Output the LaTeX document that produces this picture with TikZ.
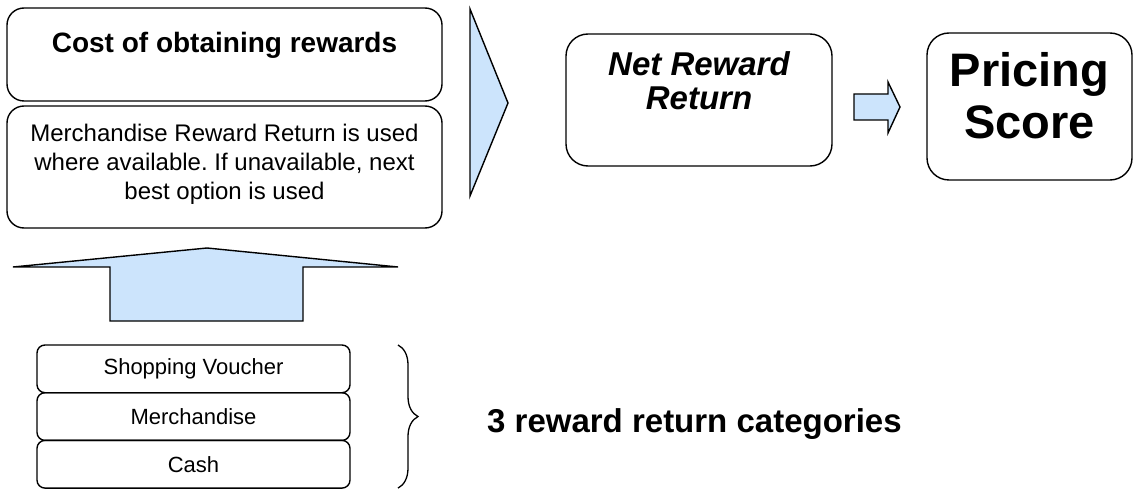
\documentclass[tikz,border=0pt]{standalone}
\usepackage{fontspec}
\setmainfont{Liberation Sans}
\usetikzlibrary{positioning,decorations.pathreplacing}
\definecolor{arrowblue}{RGB}{204,228,252}
\frenchspacing

\begin{document}
\begin{tikzpicture}[x=1pt,y=-1pt,
		box/.style={draw,line width=1.4pt,rounded corners=17pt,inner sep=0pt,outer sep=0pt},
		catbox/.style={box,rounded corners=8pt,minimum width=313pt,minimum height=47.7pt,font=\fontsize{22}{26}\selectfont},
		blockarrow/.style={draw,line width=1.4pt,fill=arrowblue,line join=miter}]
		\useasboundingbox (0,0) rectangle (1133,489);
		% left column
		\node[box,minimum width=435pt,minimum height=93pt] (cost) at (224.5,54.5) {};
		\node[font=\fontsize{28}{32}\selectfont\bfseries,inner sep=0pt,below=24pt of cost.north] (costtitle) {Cost of obtaining rewards};
		\node[box,minimum width=435pt,minimum height=122pt,align=center,text depth=10pt,font=\fontsize{24}{28.7}\selectfont] (rule) at (224.5,167) {Merchandise Reward Return is used\\where available. If unavailable, next\\best option is used};
		\draw[blockarrow] (470,9) -- (508,103) -- (470,196) -- cycle;
		% result boxes
		\node[box,rounded corners=22pt,minimum width=266pt,minimum height=132pt] (net) at (699,100) {};
		\node[font=\fontsize{33}{34.5}\selectfont\bfseries\itshape,align=center,inner sep=0pt,below=17pt of net.north] (nettext) {Net Reward\\Return};
		\draw[blockarrow] (854,94) -- (888,94) -- (888,82) -- (900,107) -- (888,133) -- (888,120) -- (854,120) -- cycle;
		\node[box,rounded corners=22pt,minimum width=205pt,minimum height=147pt] (pricing) at (1029.5,106.5) {};
		\node[font=\fontsize{47}{52}\selectfont\bfseries,align=center,inner sep=0pt,below=19pt of pricing.north] (pricingtext) {Pricing\\Score};
		% categories
		\draw[blockarrow] (110,321) -- (110,267) -- (13,267) -- (207,248) -- (398,267) -- (303,267) -- (303,321) -- cycle;
		\node[catbox] (voucher) at (193.5,368.85) {Shopping Voucher};
		\node[catbox,below=0pt of voucher] (merch) {Merchandise};
		\node[catbox,below=0pt of merch] (cash) {Cash};
		\draw[line width=1.3pt,decorate,decoration={brace,amplitude=20pt}] ([xshift=48pt]voucher.north east) -- ([xshift=48pt]cash.south east);
		\node[font=\fontsize{33}{38}\selectfont\bfseries,anchor=base west,inner sep=0pt] (cats) at (487,432) {3 reward return categories};
	\end{tikzpicture}
\end{document}
